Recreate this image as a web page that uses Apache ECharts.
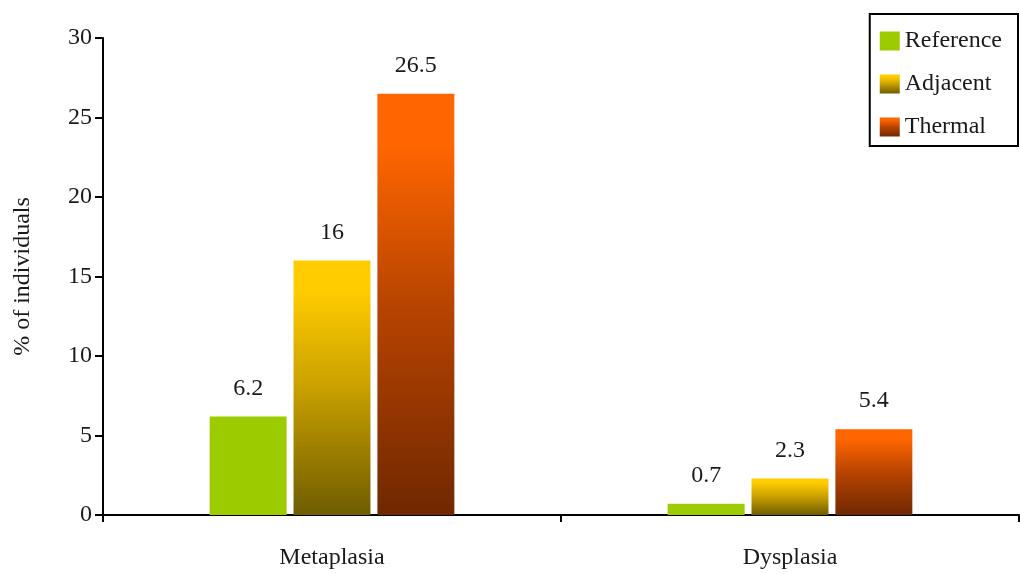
<!DOCTYPE html>
<html>
<head>
<meta charset="utf-8">
<script src="https://cdn.jsdelivr.net/npm/echarts@6/dist/echarts.min.js"></script>
<style>
  html, body { margin: 0; padding: 0; background: #fff; }
  #chart { width: 1020px; height: 574px; }
</style>
</head>
<body>
<div id="chart"></div>
<script>
// Lesion categories and percentages per sampling site
const categories = ['Metaplasia', 'Dysplasia'];
const referenceValues = [6.2, 0.7];
const adjacentValues = [16, 2.3];
const thermalValues = [26.5, 5.4];
const yTicks = [0, 5, 10, 15, 20, 25, 30];

const FONT = '"Liberation Serif", "DejaVu Serif", serif';
const TEXT_COLOR = '#1a1a1a';

function vGrad(top, mid, bottom) {
  return new echarts.graphic.LinearGradient(0, 0, 0, 1, [
    { offset: 0, color: top },
    { offset: 0.12, color: top },
    { offset: 0.5, color: mid },
    { offset: 1, color: bottom }
  ]);
}

const chart = echarts.init(document.getElementById('chart'), null, { renderer: 'canvas' });

const labelStyle = {
  show: true,
  position: 'top',
  distance: 16,
  fontFamily: FONT,
  fontSize: 24,
  color: TEXT_COLOR
};

chart.setOption({
  animation: false,
  backgroundColor: '#ffffff',
  grid: { left: 103, right: 1, top: 38, bottom: 59, containLabel: false, outerBoundsMode: 'none' },
  legend: {
    orient: 'vertical',
    right: 2,
    top: 14,
    padding: [15, 16, 7, 10],
    itemGap: 19,
    itemWidth: 20,
    itemHeight: 19,
    icon: 'rect',
    borderColor: '#000',
    borderWidth: 2,
    textStyle: { fontFamily: FONT, fontSize: 24, color: TEXT_COLOR },
    data: ['Reference', 'Adjacent', 'Thermal']
  },
  xAxis: {
    type: 'category',
    data: categories,
    axisLine: { lineStyle: { color: '#000', width: 2 } },
    axisTick: { show: true, length: 7, lineStyle: { color: '#000', width: 2 } },
    axisLabel: { fontFamily: FONT, fontSize: 24, color: TEXT_COLOR, margin: 31 }
  },
  yAxis: {
    type: 'value',
    min: yTicks[0],
    max: yTicks[yTicks.length - 1],
    interval: yTicks[1] - yTicks[0],
    name: '% of individuals',
    nameLocation: 'middle',
    nameGap: 68,
    nameTextStyle: { fontFamily: FONT, fontSize: 24, color: TEXT_COLOR },
    axisLine: { show: true, lineStyle: { color: '#000', width: 2 } },
    axisTick: { show: true, length: 8, lineStyle: { color: '#000', width: 2 } },
    axisLabel: { fontFamily: FONT, fontSize: 24, color: TEXT_COLOR, margin: 11 },
    splitLine: { show: false }
  },
  series: [
    {
      name: 'Reference',
      type: 'bar',
      data: referenceValues,
      barWidth: '16.8%',
      barGap: '9%',
      itemStyle: { color: '#9ccc00' },
      label: labelStyle
    },
    {
      name: 'Adjacent',
      type: 'bar',
      data: adjacentValues,
      barWidth: '16.8%',
      barGap: '9%',
      itemStyle: { color: vGrad('#ffcc00', '#c9a000', '#6e5c00') },
      label: labelStyle
    },
    {
      name: 'Thermal',
      type: 'bar',
      data: thermalValues,
      barWidth: '16.8%',
      barGap: '9%',
      itemStyle: { color: vGrad('#ff6600', '#b84400', '#702800') },
      label: labelStyle
    }
  ]
});
</script>
</body>
</html>
